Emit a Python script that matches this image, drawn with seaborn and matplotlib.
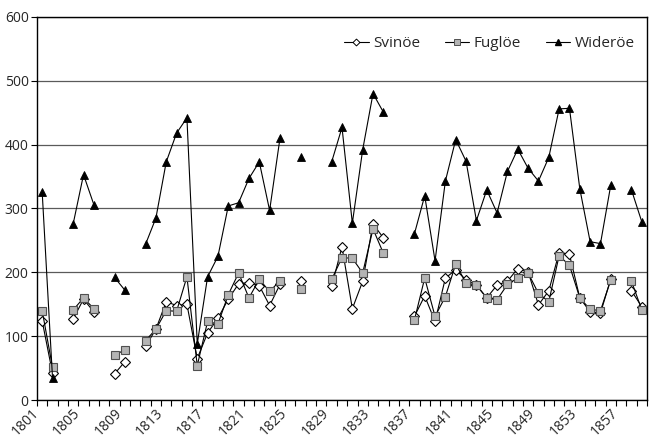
import numpy as np
import pandas as pd
import matplotlib
matplotlib.use("Agg")
import matplotlib.pyplot as plt
from matplotlib.lines import Line2D
import seaborn as sns

nan = np.nan
years = list(range(1801, 1860))

svinoe = [124, 42, nan, 127, 158, 138, nan, 41, 60, nan,
          84, 111, 154, 148, 150, 65, 105, 128, 158, 182,
          184, 179, 148, 181, nan, 187, nan, nan, 178, 240,
          143, 186, 276, 254, nan, nan, 131, 163, 123, 191,
          204, 188, 180, 160, 180, 186, 206, 201, 149, 171,
          231, 228, 160, 138, 136, 190, nan, 171, 146]

fugloe = [140, 51, nan, 141, 160, 143, nan, 71, 78, nan,
          93, 111, 140, 139, 193, 54, 123, 119, 165, 199,
          160, 189, 170, 187, nan, 174, nan, nan, 189, 223,
          222, 199, 268, 230, nan, nan, 125, 191, 131, 162,
          213, 183, 180, 160, 157, 181, 191, 199, 167, 154,
          226, 211, 160, 142, 140, 188, nan, 186, 141]

wideroe = [326, 35, nan, 276, 353, 306, nan, 192, 172, nan,
           244, 285, 373, 418, 442, 88, 193, 225, 304, 309,
           347, 373, 297, 410, nan, 380, nan, nan, 373, 427,
           277, 392, 480, 451, nan, nan, 260, 320, 218, 343,
           408, 374, 281, 329, 293, 358, 393, 363, 343, 380,
           456, 457, 331, 248, 245, 337, nan, 329, 279]

series_names = ["Svinöe", "Fuglöe", "Wideröe"]
series_values = [svinoe, fugloe, wideroe]
tick_years = list(range(1801, 1860, 4))

sns.set_style("white")
plt.rcParams["font.family"] = ["Open Sans", "DejaVu Sans"]

fig = plt.figure(figsize=(6.52, 4.43), dpi=100)
ax = fig.add_axes([37 / 652, 1 - 400 / 443, 610 / 652, 383 / 443])

styles = {
    "Svinöe": dict(marker="D", markersize=4.6, markerfacecolor="white",
                   markeredgecolor="black", markeredgewidth=0.8),
    "Fuglöe": dict(marker="s", markersize=5.5, markerfacecolor="#b4b4b4",
                   markeredgecolor="#505050", markeredgewidth=0.8),
    "Wideröe": dict(marker="^", markersize=6, markerfacecolor="black",
                    markeredgecolor="black", markeredgewidth=0.6),
}

for name, vals in zip(series_names, series_values):
    df = pd.DataFrame({"year": years, "value": vals})
    df["seg"] = df["value"].isna().cumsum()
    df = df.dropna()
    sns.lineplot(data=df, x="year", y="value", units="seg", estimator=None,
                 color="black", linewidth=0.8, legend=False, ax=ax,
                 **styles[name])

ax.set_xlim(1800.5, 1859.5)
ax.set_ylim(0, 600)
ax.set_yticks(range(0, 601, 100))
ax.yaxis.grid(True, color="#5a5a5a", linewidth=0.9)
ax.xaxis.grid(False)
ax.set_axisbelow(True)
ax.set_xticks(tick_years)
ax.set_xticklabels([str(y) for y in tick_years])
ax.set_xticks(np.arange(1800.5, 1860, 1.0), minor=True)
ax.tick_params(axis="x", which="major", length=0, pad=4, labelsize=10,
               labelrotation=45)
ax.tick_params(axis="x", which="minor", length=4, width=0.8, color="black",
               direction="out", bottom=True)
ax.tick_params(axis="y", which="major", length=4, width=0.8, color="black",
               direction="out", left=True, labelsize=10, pad=2)
ax.set_xlabel("")
ax.set_ylabel("")
for s in ax.spines.values():
    s.set_color("black")
    s.set_linewidth(1.0)
    s.set_visible(True)

handles = [
    Line2D([], [], color="black", linewidth=0.8, marker="D", markersize=3.5,
           markerfacecolor="white", markeredgecolor="black", markeredgewidth=0.7),
    Line2D([], [], color="black", linewidth=0.8, marker="s", markersize=4,
           markerfacecolor="#b4b4b4", markeredgecolor="#505050", markeredgewidth=0.7),
    Line2D([], [], color="black", linewidth=0.8, marker="^", markersize=4.5,
           markerfacecolor="black", markeredgecolor="black"),
]
ax.legend(handles, series_names, loc="center right", bbox_to_anchor=(0.99, 0.93),
          ncol=3, frameon=False, fontsize=11, handlelength=1.6,
          handletextpad=0.3, columnspacing=1.6, borderaxespad=0)

fig.canvas.draw()
for lbl in ax.get_xticklabels():
    lbl.set_rotation(45)
    lbl.set_horizontalalignment("right")
    lbl.set_verticalalignment("top")
    lbl.set_rotation_mode("default")

fig.savefig("out.png", dpi=100)
